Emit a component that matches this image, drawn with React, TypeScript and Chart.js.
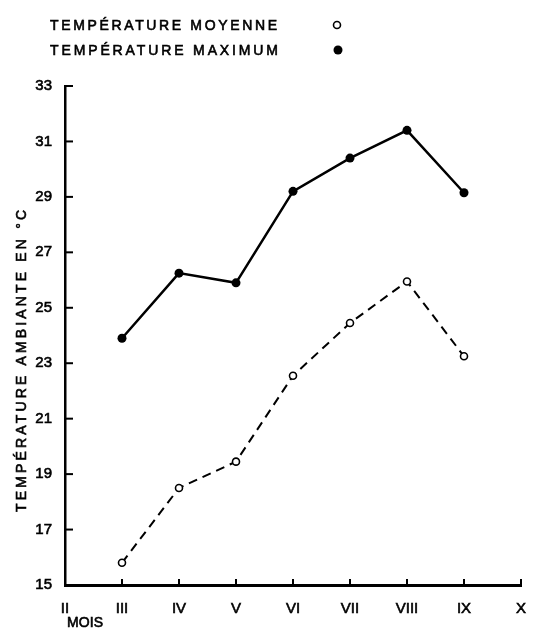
import React, { useEffect, useRef } from "react";
import { Chart, registerables } from "chart.js";

Chart.register(...registerables);

const months = ["II", "III", "IV", "V", "VI", "VII", "VIII", "IX", "X"];
const tempMoyenne = [null, 15.8, 18.5, 19.45, 22.55, 24.45, 25.95, 23.25, null];
const tempMaximum = [null, 23.9, 26.25, 25.9, 29.2, 30.4, 31.4, 29.15, null];
const yTicks = [15, 17, 19, 21, 23, 25, 27, 29, 31, 33];
const legendLabels = ["TEMPÉRATURE MOYENNE", "TEMPÉRATURE MAXIMUM"];
const yTitle = "TEMPÉRATURE AMBIANTE EN °C";
const xTitle = "MOIS";

const FONT = "'Liberation Sans', Arial, sans-serif";

function drawSpaced(
  ctx: CanvasRenderingContext2D,
  text: string,
  x: number,
  y: number,
  targetWidth: number
) {
  (ctx as any).letterSpacing = "0px";
  const w = ctx.measureText(text).width;
  const n = Array.from(text).length;
  const sp = n > 1 ? (targetWidth - w) / (n - 1) : 0;
  (ctx as any).letterSpacing = sp + "px";
  ctx.fillText(text, x, y);
  ctx.lineWidth = 0.6;
  ctx.strokeText(text, x, y);
  (ctx as any).letterSpacing = "0px";
}

const decorPlugin = {
  id: "decor",
  afterDraw(chart: any) {
    const ctx: CanvasRenderingContext2D = chart.ctx;
    const xs = chart.scales.x;
    const ys = chart.scales.y;
    const area = chart.chartArea;
    ctx.save();
    ctx.strokeStyle = "#000";
    ctx.fillStyle = "#000";
    ctx.lineCap = "butt";

    // inward ticks on y axis
    ctx.lineWidth = 2;
    ys.ticks.forEach((t: any) => {
      const py = ys.getPixelForValue(t.value);
      ctx.beginPath();
      ctx.moveTo(area.left, py);
      ctx.lineTo(area.left + 8, py);
      ctx.stroke();
    });
    // inward ticks on x axis
    for (let i = 1; i < months.length; i++) {
      const px = xs.getPixelForValue(i);
      ctx.beginPath();
      ctx.moveTo(px, area.bottom);
      ctx.lineTo(px, area.bottom - 6);
      ctx.stroke();
    }

    // legend
    ctx.textAlign = "left";
    ctx.textBaseline = "alphabetic";
    ctx.font = `14px ${FONT}`;
    drawSpaced(ctx, legendLabels[0], 50, 30, 227);
    drawSpaced(ctx, legendLabels[1], 50, 55, 228);
    ctx.lineWidth = 1.6;
    ctx.beginPath();
    ctx.arc(337, 25, 3.5, 0, Math.PI * 2);
    ctx.fillStyle = "#fff";
    ctx.fill();
    ctx.stroke();
    ctx.fillStyle = "#000";
    ctx.beginPath();
    ctx.arc(338, 50, 4.5, 0, Math.PI * 2);
    ctx.fill();

    // y title
    ctx.save();
    ctx.translate(21, 361);
    ctx.rotate(-Math.PI / 2);
    ctx.textAlign = "left";
    ctx.font = `14px ${FONT}`;
    drawSpaced(ctx, yTitle, -151, 5, 302);
    ctx.restore();

    // x title
    ctx.font = `14px ${FONT}`;
    ctx.textAlign = "left";
    drawSpaced(ctx, xTitle, 67, 627, 36);

    ctx.restore();
  },
};

export default function App() {
  const canvasRef = useRef<HTMLCanvasElement | null>(null);

  useEffect(() => {
    const canvas = canvasRef.current;
    if (!canvas) return;
    const chart = new Chart(canvas, {
      type: "line",
      data: {
        labels: months,
        datasets: [
          {
            label: legendLabels[1],
            data: tempMaximum,
            borderColor: "#000",
            borderWidth: 2.5,
            pointRadius: 4.5,
            pointBackgroundColor: "#000",
            pointBorderWidth: 0,
            fill: false,
            tension: 0,
          },
          {
            label: legendLabels[0],
            data: tempMoyenne,
            borderColor: "#000",
            borderWidth: 2,
            borderDash: [9, 6],
            pointRadius: 3.5,
            pointBackgroundColor: "#fff",
            pointBorderColor: "#000",
            pointBorderWidth: 1.6,
            fill: false,
            tension: 0,
          },
        ],
      },
      options: {
        responsive: false,
        animation: false,
        devicePixelRatio: 1,
        layout: { padding: { top: 86, right: 37, left: 0, bottom: 0 } },
        plugins: {
          legend: { display: false },
          tooltip: { enabled: false },
        },
        scales: {
          x: {
            type: "category",
            offset: false,
            grid: { display: false },
            border: { display: true, color: "#000", width: 3 },
            ticks: {
              color: "#000",
              font: { family: FONT, size: 15 },
              textStrokeColor: "#000",
              textStrokeWidth: 0.6,
              padding: 7,
              maxRotation: 0,
              autoSkip: false,
            },
            afterFit: (s: any) => {
              s.height = 44;
            },
          },
          y: {
            min: 15,
            max: 33,
            grid: { display: false },
            border: { display: true, color: "#000", width: 2.5 },
            ticks: {
              color: "#000",
              font: { family: FONT, size: 15 },
              textStrokeColor: "#000",
              textStrokeWidth: 0.6,
              padding: 5,
            },
            afterBuildTicks: (s: any) => {
              s.ticks = yTicks.map((v) => ({ value: v }));
            },
            afterFit: (s: any) => {
              s.width = 65;
            },
          },
        },
      },
      plugins: [decorPlugin],
    });
    return () => chart.destroy();
  }, []);

  return (
    <div style={{ position: "absolute", left: 0, top: 0, width: 558, height: 629, background: "#fff" }}>
      <canvas ref={canvasRef} width={558} height={629} style={{ width: 558, height: 629, display: "block" }} />
    </div>
  );
}
